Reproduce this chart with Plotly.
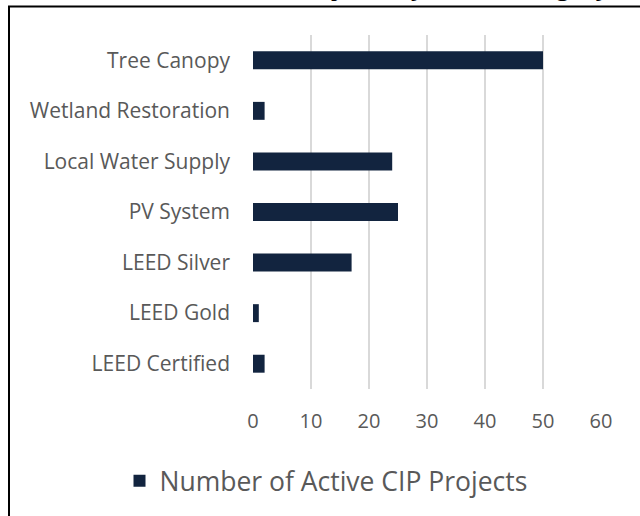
import plotly.graph_objects as go

categories = ["LEED Certified", "LEED Gold", "LEED Silver", "PV System",
              "Local Water Supply", "Wetland Restoration", "Tree Canopy"]
active_projects = [2, 1, 17, 25, 24, 2, 50]
series_name = "Number of Active CIP Projects"
x_ticks = [0, 10, 20, 30, 40, 50, 60]
title_text = "Active CIP Projects by Asset Category"

W, H = 640, 516
L, R, T, B = 253, 39, 35, 126
pw, ph = W - L - R, H - T - B

def px_x(p):
    return (p - L) / pw

def px_y(p):
    return (H - B - p) / ph

fig = go.Figure(go.Bar(
    y=categories, x=active_projects, orientation="h",
    name=series_name, marker=dict(color="#12243f", line=dict(width=0)),
    width=0.355, showlegend=True,
))

text_col = "#595959"
fig.update_layout(
    width=W, height=H,
    margin=dict(l=L, r=R, t=T, b=B),
    plot_bgcolor="white", paper_bgcolor="white",
    font=dict(family="Open Sans", color=text_col),
    xaxis=dict(range=[0, 60], tickvals=x_ticks, showgrid=True,
               gridcolor="#d9d9d9", gridwidth=2, zeroline=False,
               showline=False, ticks="", ticklabelstandoff=18,
               tickfont=dict(size=20, color=text_col), fixedrange=True),
    yaxis=dict(showgrid=False, zeroline=False, showline=False, ticks="",
               ticklabelstandoff=22, tickfont=dict(size=21, color=text_col),
               range=[-0.5, 6.5], fixedrange=True),
    showlegend=True,
    legend=dict(orientation="h", x=px_x(326), xanchor="center",
                y=px_y(481), yanchor="middle",
                font=dict(size=26.5, color=text_col)),
    shapes=[
        dict(type="line", xref="paper", yref="paper",
             x0=px_x(9), x1=px_x(9), y0=px_y(6), y1=px_y(H + 5),
             line=dict(color="black", width=2)),
        dict(type="line", xref="paper", yref="paper",
             x0=px_x(8), x1=px_x(W + 5), y0=px_y(6.5), y1=px_y(6.5),
             line=dict(color="black", width=2)),
    ],
    annotations=[
        dict(text="<b>" + title_text + "</b>", xref="paper", yref="paper",
             x=px_x(612), xanchor="right", y=px_y(4), yanchor="bottom",
             showarrow=False, font=dict(size=24, color="black")),
    ],
)

fig.write_html("out.html", config={"displayModeBar": False},
               post_script="document.body.style.margin='0';")
